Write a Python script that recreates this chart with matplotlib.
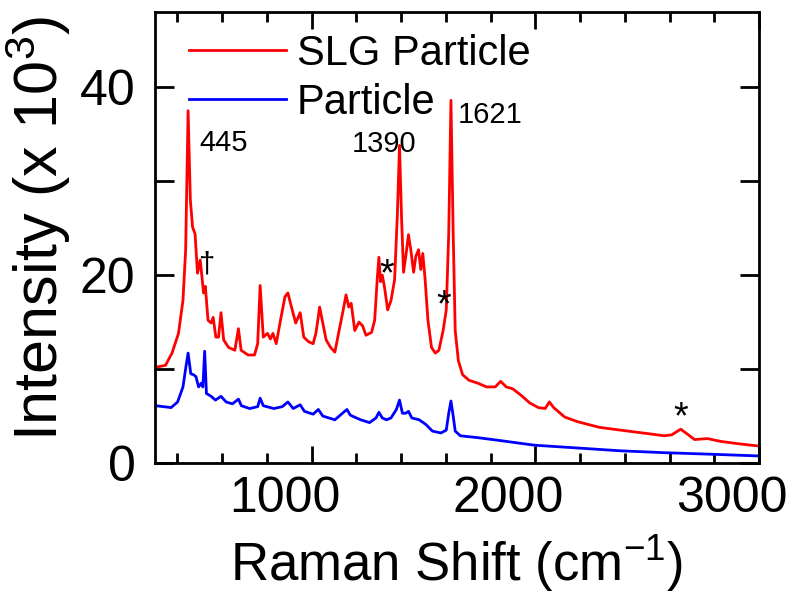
import numpy as np
import matplotlib
matplotlib.use("Agg")
import matplotlib.pyplot as plt
from matplotlib.ticker import MultipleLocator, FixedLocator
from matplotlib.transforms import ScaledTranslation

plt.rcParams['font.family'] = ['Liberation Sans', 'DejaVu Sans']
plt.rcParams['mathtext.default'] = 'regular'

# SLG Particle spectrum (Raman shift cm-1, intensity x 10^3)
slg_x = [303, 347, 376, 405, 425, 437, 448, 458, 468, 479, 490, 502, 510, 517, 525,
         537, 551, 560, 572, 584, 595, 607, 629, 657, 673, 685, 716, 745, 759, 770,
         784, 803, 816, 827, 842, 861, 881, 894, 910, 929, 949, 965, 987, 1007, 1020,
         1036, 1050, 1065, 1085, 1104, 1123, 1139, 1154, 1166, 1177, 1193, 1212, 1228,
         1243, 1268, 1282, 1294, 1301, 1308, 1316, 1326, 1340, 1355, 1371, 1383, 1393,
         1402, 1411, 1421, 1433, 1444, 1456, 1466, 1478, 1488, 1497, 1507, 1520, 1536,
         1553, 1569, 1588, 1602, 1613, 1623, 1633, 1642, 1656, 1675, 1704, 1743, 1782,
         1821, 1845, 1870, 1899, 1937, 1975, 2014, 2044, 2063, 2082, 2131, 2189, 2286,
         2381, 2480, 2577, 2610, 2650, 2673, 2712, 2770, 2829, 2926, 3003]
slg_y = [10.2, 10.4, 11.7, 13.8, 17.3, 22.7, 37.5, 28.0, 25.1, 24.4, 20.2, 21.6, 19.8, 18.1, 18.8,
         15.2, 14.9, 15.5, 13.4, 13.4, 16.0, 13.1, 12.3, 12.0, 14.3, 12.0, 11.5, 11.5, 12.7, 18.9,
         13.4, 13.8, 13.2, 13.8, 12.7, 15.2, 17.7, 18.1, 16.6, 14.9, 16.0, 13.4, 12.9, 12.7, 13.9,
         16.6, 14.9, 13.1, 12.3, 11.8, 14.1, 16.0, 17.9, 16.6, 17.0, 14.1, 15.0, 14.6,
         13.6, 13.9, 15.2, 19.8, 21.9, 19.3, 20.0, 18.7, 16.3, 17.3, 19.5, 26.2, 33.8,
         26.2, 20.3, 22.0, 24.3, 22.6, 20.3, 22.0, 22.7, 20.6, 22.3, 19.7, 15.2, 12.3,
         11.7, 12.0, 14.1, 16.3, 24.4, 38.6, 24.4, 14.1, 10.9, 9.4, 8.8, 8.5, 8.1,
         8.1, 8.7, 8.1, 7.9, 7.2, 6.4, 5.9, 5.8, 6.5, 5.9, 4.9, 4.4, 3.8,
         3.5, 3.2, 2.9, 3.0, 3.6, 3.2, 2.5, 2.6, 2.3, 2.0, 1.8]

# Particle spectrum
par_x = [303, 372, 401, 425, 438, 448, 460, 472, 483, 495, 507, 514, 522, 530, 551,
         570, 595, 618, 646, 673, 686, 723, 759, 770, 784, 831, 869, 894, 918, 949,
         968, 1007, 1030, 1050, 1104, 1143, 1158, 1173, 1200, 1220, 1259, 1288, 1301,
         1316, 1335, 1355, 1379, 1393, 1406, 1421, 1433, 1448, 1481, 1511, 1540, 1578,
         1602, 1613, 1623, 1633, 1642, 1665, 1743, 1840, 1995, 2189, 2381, 2577, 2770, 3003]
par_y = [6.1, 5.9, 6.5, 8.1, 10.2, 11.7, 9.5, 9.4, 9.2, 8.1, 8.5, 8.1, 11.9, 7.4, 7.1,
         6.7, 7.1, 6.5, 6.3, 6.8, 6.1, 5.8, 6.0, 6.9, 6.1, 5.8, 6.0, 6.5, 5.8, 6.2,
         5.5, 5.2, 5.7, 5.0, 4.6, 5.4, 5.7, 5.1, 4.8, 4.6, 4.3, 4.8, 5.4,
         4.8, 4.6, 4.8, 5.7, 6.7, 5.3, 5.3, 5.5, 4.8, 4.6, 4.1, 3.4, 3.2,
         3.5, 5.3, 6.6, 5.0, 3.4, 2.9, 2.7, 2.4, 1.9, 1.6, 1.3, 1.1, 0.95, 0.75]

# peak labels and markers
ann_text = ['445', '1390', '1621', '\u2020', '*', '*', '*']
ann_x = [607, 1326, 1800, 531, 1335, 1590, 2650]
ann_y = [34.1, 34.0, 37.0, 21.1, 20.0, 16.7, 4.8]
ann_size = [21, 21, 21, 21, 27, 27, 27]

fig = plt.figure(figsize=(8, 5.95), dpi=100)
ax = fig.add_axes([0.19375, 0.2218, 0.755, 0.758])

ax.plot(slg_x, slg_y, color='#ff0000', lw=2.0, label='SLG Particle')
ax.plot(par_x, par_y, color='#0000ff', lw=2.0, label='Particle')

for t, x, y, fs in zip(ann_text, ann_x, ann_y, ann_size):
    ax.text(x, y, t, fontsize=fs, ha='center', va='center')

ax.set_xlim(300, 3000)
ax.set_ylim(0, 48)

ax.xaxis.set_major_locator(FixedLocator([1000, 2000, 3000]))
ax.xaxis.set_minor_locator(MultipleLocator(200))
ax.yaxis.set_major_locator(FixedLocator([0, 20, 40]))
ax.yaxis.set_minor_locator(FixedLocator([10, 30]))

ax.tick_params(axis='both', which='both', direction='in', top=True, right=True, width=2)
ax.tick_params(axis='x', which='major', length=12, labelsize=36, pad=9)
ax.tick_params(axis='x', which='minor', length=7)
ax.tick_params(axis='y', which='both', length=14)
ax.tick_params(axis='y', which='major', labelsize=36, pad=14)
for s in ax.spines.values():
    s.set_linewidth(2)

# x tick labels sit a bit left of their ticks in the original
shift = ScaledTranslation(-0.27, 0, fig.dpi_scale_trans)
for lab in ax.get_xticklabels():
    lab.set_transform(lab.get_transform() + shift)

ax.set_xlabel('Raman Shift (cm$^{-1}$)', fontsize=38)
ax.set_ylabel('Intensity (x 10$^{3}$)', fontsize=44)
ax.xaxis.set_label_coords(0.5, -0.155)
ax.yaxis.set_label_coords(-0.135, 0.52)

ax.legend(loc='upper left', bbox_to_anchor=(0.056, 0.952), frameon=False, fontsize=30,
          handlelength=2.33, handletextpad=0.26, labelspacing=0.22,
          borderpad=0, borderaxespad=0)

fig.savefig('out.png', dpi=100)
